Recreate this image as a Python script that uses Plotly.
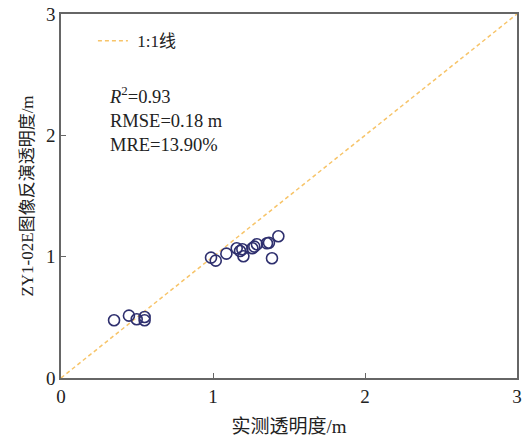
import plotly.graph_objects as go

measured = [0.349, 0.447, 0.498, 0.55, 0.55, 0.987, 1.018, 1.088, 1.156, 1.178, 1.193, 1.2,
            1.259, 1.272, 1.289, 1.355, 1.368, 1.388, 1.43]
retrieved = [0.476, 0.514, 0.484, 0.503, 0.476, 0.992, 0.967, 1.025, 1.069, 1.047, 1.061, 1.003,
             1.069, 1.083, 1.102, 1.11, 1.115, 0.987, 1.168]
line_x = [0, 3]
line_y = [0, 3]
stats = ["<i>R</i><sup>2</sup>=0.93", "RMSE=0.18 m", "MRE=13.90%"]
ticks = [0, 1, 2, 3]

font_fam = "Liberation Serif, Times New Roman, Noto Sans CJK SC, serif"

fig = go.Figure()
fig.add_trace(go.Scatter(x=line_x, y=line_y, mode="lines", name="\u00a01:1线",
                         line=dict(color="#f7c469", width=1.5, dash="4px,3px"), showlegend=True))
fig.add_trace(go.Scatter(x=measured, y=retrieved, mode="markers", showlegend=False,
                         marker=dict(symbol="circle-open", size=11,
                                     line=dict(color="#2e2f6e", width=1.6), color="#2e2f6e")))

fig.add_annotation(text="<br>".join(stats), xref="paper", yref="paper", x=0.1, y=0.815,
                   xanchor="left", yanchor="top", align="left", showarrow=False,
                   font=dict(family=font_fam, size=18.5, color="#222"))

axis_common = dict(range=[0, 3], tickvals=ticks, showgrid=False, zeroline=False,
                   showline=True, linecolor="#666", linewidth=1.5, mirror=True,
                   ticks="inside", ticklen=5, tickcolor="#666", ticklabeloverflow="allow",
                   automargin=False,
                   tickfont=dict(family=font_fam, size=19, color="#222"))

fig.update_layout(
    width=525, height=437,
    margin=dict(l=61, r=8, t=14, b=59),
    plot_bgcolor="white", paper_bgcolor="white",
    xaxis=dict(axis_common, title=dict(text="实测透明度/m", standoff=14,
                                       font=dict(family=font_fam, size=19, color="#222"))),
    yaxis=dict(axis_common, title=dict(text="ZY1-02E图像反演透明度/m", standoff=8,
                                       font=dict(family=font_fam, size=17, color="#222"))),
    legend=dict(x=0.07, y=0.975, xanchor="left", yanchor="top", bgcolor="rgba(0,0,0,0)",
                itemwidth=30, font=dict(family=font_fam, size=17, color="#222")),
)

fig.write_html("out.html", config={"displayModeBar": False},
               post_script="document.body.style.margin='0';document.body.style.overflow='hidden';")
